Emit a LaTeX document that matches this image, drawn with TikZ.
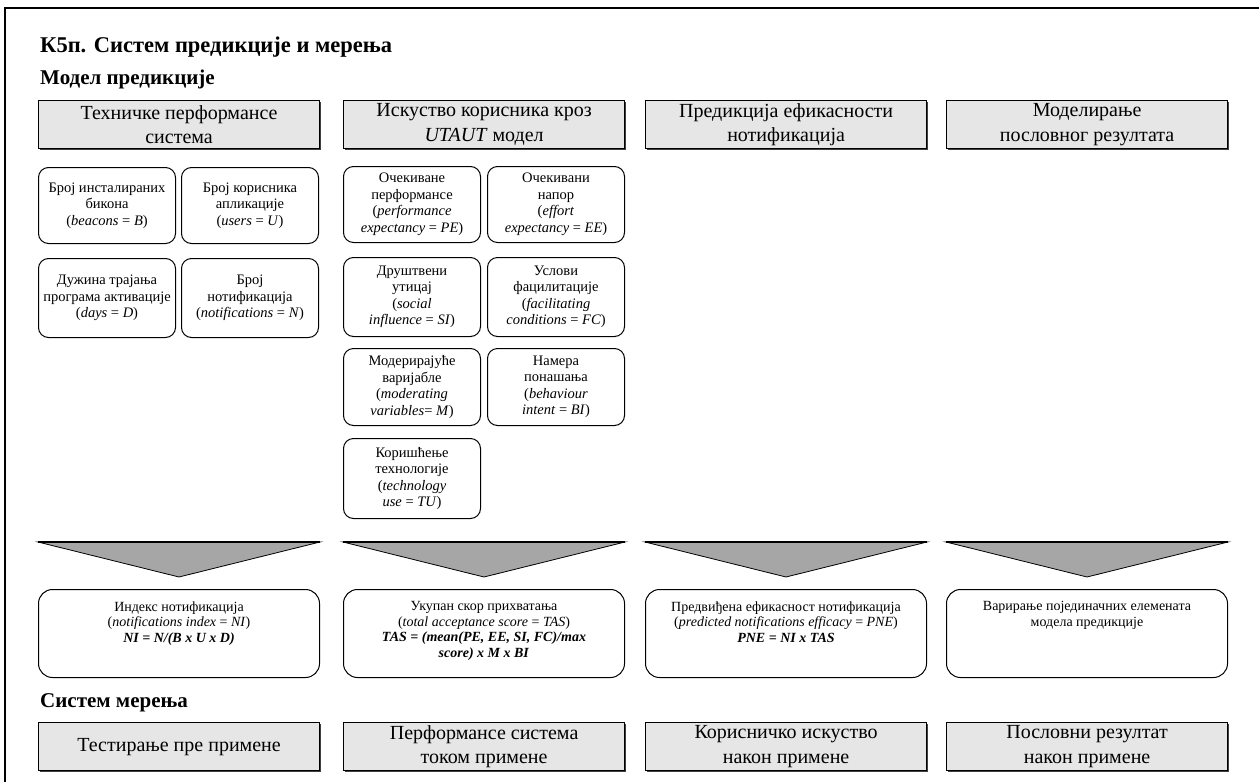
\documentclass[tikz,border=0pt]{standalone}
\usepackage{fontspec}
\setmainfont{Liberation Serif}
\usetikzlibrary{shadows}
\definecolor{hdrgray}{HTML}{E6E6E6}
\definecolor{trigray}{HTML}{A6A6A6}
\newcommand\resbody[1]{\begin{minipage}[c][80pt][t]{279pt}\centering\vspace{8pt}#1\end{minipage}}
\begin{document}
\begin{tikzpicture}[x=1pt,y=-1pt,
  hdr/.style={draw=black, line width=1.2pt, fill=hdrgray, minimum width=281pt,
    minimum height=48pt, inner sep=0pt, align=center, anchor=north west,
    font=\fontsize{20}{24.5}\selectfont,
    drop shadow={shadow xshift=1.6pt, shadow yshift=-1.6pt, fill=black!75, opacity=1}},
  smallbox/.style={draw=black, line width=1pt, rounded corners=10pt, fill=white,
    minimum width=137pt, minimum height=76pt, inner sep=0pt, align=center,
    anchor=north west, font=\fontsize{14.5}{16.5}\selectfont},
  resbox/.style={draw=black, line width=1pt, rounded corners=14pt, fill=white,
    minimum width=281pt, minimum height=88pt, inner sep=0pt, anchor=north west,
    font=\fontsize{14}{15.5}\selectfont},
  heading/.style={anchor=west, inner sep=0pt, font=\bfseries\fontsize{21}{25}\selectfont},
  funnel/.style={fill=trigray, draw=black, line width=0.8pt, line join=miter}
]
\useasboundingbox (0,0) rectangle (1259,782);

% page frame (top and left edges)
\coordinate (fbl) at (5,782);
\coordinate (ftl) at (5,8);
\coordinate (ftr) at (1259,8);
\draw[line width=2pt] (fbl) -- (ftl) -- (ftr);

% headings
\node[heading, font=\bfseries\fontsize{22.5}{26}\selectfont] (title) at (40,47) {К5п. Систем предикције и мерења};
\node[heading] (model) at (40,79) {Модел предикције};
\node[heading] (meas) at (40,703) {Систем мерења};

% column headers
\node[hdr] (h1) at (38,100)  {Техничке перформансе\\система};
\node[hdr] (h2) at (343,100) {Искуство корисника кроз\\\textit{UTAUT} модел};
\node[hdr] (h3) at (645,100) {Предикција ефикасности\\нотификација};
\node[hdr] (h4) at (946,100) {Моделирање\\пословног резултата};

% technical performance inputs
\node[smallbox] (a1) at (38,167)  {Број инсталираних\\бикона\\(\textit{beacons} = \textit{B})};
\node[smallbox] (a2) at (181,167) {Број корисника\\апликације\\(\textit{users} = \textit{U})};
\node[smallbox, minimum height=79pt] (a3) at (38,258)  {Дужина трајања\\програма активације\\(\textit{days} = \textit{D})};
\node[smallbox, minimum height=79pt] (a4) at (181,258) {Број\\нотификација\\(\textit{notifications} = \textit{N})};

% UTAUT constructs
\node[smallbox] (b1) at (343,166) {Очекиване\\перформансе\\(\textit{performance}\\\textit{expectancy} = \textit{PE})};
\node[smallbox] (b2) at (487,166) {Очекивани\\напор\\(\textit{effort}\\\textit{expectancy} = \textit{EE})};
\node[smallbox, minimum height=79pt] (b3) at (343,257) {Друштвени\\утицај\\(\textit{social}\\\textit{influence} = \textit{SI})};
\node[smallbox, minimum height=79pt] (b4) at (487,257) {Услови\\фацилитације\\(\textit{facilitating}\\\textit{conditions} = \textit{FC})};
\node[smallbox, minimum height=77pt] (b5) at (343,348) {Модерирајуће\\варијабле\\(\textit{moderating}\\\textit{variables}= \textit{M})};
\node[smallbox, minimum height=77pt] (b6) at (487,348) {Намера\\понашања\\(\textit{behaviour}\\\textit{intent} = \textit{BI})};
\node[smallbox, minimum height=80pt] (b7) at (343,438) {Коришћење\\технологије\\(\textit{technology}\\\textit{use} = \textit{TU})};

% result boxes
\node[resbox] (r1) at (38,589)  {\resbody{Индекс нотификација\\(\textit{notifications index} = \textit{NI})\\\textbf{\textit{NI = N/(B x U x D)}}}};
\node[resbox] (r2) at (343,589) {\resbody{Укупан скор прихватања\\(\textit{total acceptance score} = \textit{TAS})\\\textbf{\textit{TAS = (mean(PE, EE, SI, FC)/max}}\\\textbf{\textit{score) x M x BI}}}};
\node[resbox] (r3) at (645,589) {\resbody{Предвиђена ефикасност нотификација\\(\textit{predicted notifications efficacy} = \textit{PNE})\\\textbf{\textit{PNE = NI x TAS}}}};
\node[resbox] (r4) at (946,589) {\resbody{Варирање појединачних елемената\\модела предикције}};

% funnels above the result boxes
\foreach \r in {r1,r2,r3,r4}{
  \draw[funnel] ([yshift=47pt]\r.north west) -- ([yshift=47pt]\r.north east)
    -- ([yshift=12pt]\r.north) -- cycle;
  \draw[line width=2pt] ([yshift=47pt]\r.north west) -- ([yshift=47pt]\r.north east);
}

% measurement system
\node[hdr] (m1) at (38,722)  {Тестирање пре примене};
\node[hdr] (m2) at (343,722) {Перформансе система\\током примене};
\node[hdr] (m3) at (645,722) {Корисничко искуство\\након примене};
\node[hdr] (m4) at (946,722) {Пословни резултат\\након примене};
\end{tikzpicture}
\end{document}
